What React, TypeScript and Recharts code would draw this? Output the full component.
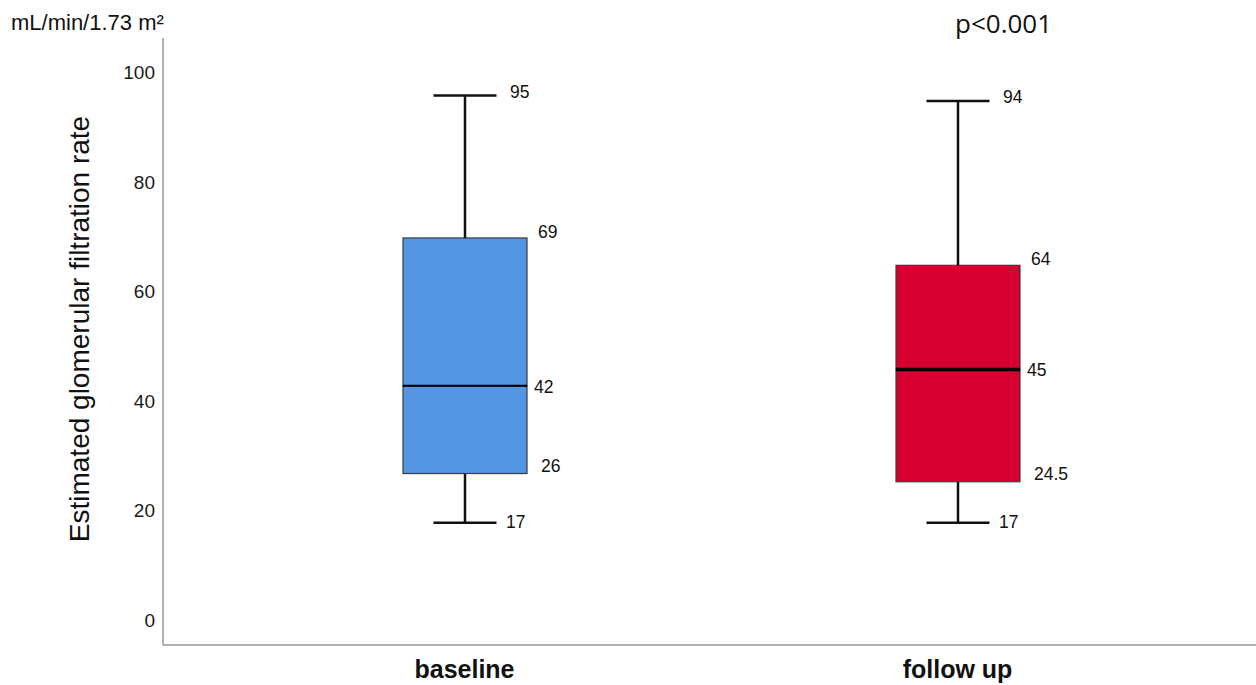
import { BarChart, Bar, XAxis, YAxis } from 'recharts'

// eGFR summary per visit (five-number summary)
const GROUPS = ['baseline', 'follow up']
const MINIMUM = [17, 17]
const LOWER_QUARTILE = [26, 24.5]
const MEDIAN = [42, 45]
const UPPER_QUARTILE = [69, 64]
const MAXIMUM = [95, 94]
const Y_TICKS = [0, 20, 40, 60, 80, 100]

const FILLS = ['#5495e4', '#d5002f']
const MEDIAN_WIDTHS = [2, 3.5]

const rows = GROUPS.map((group, i) => ({
  group,
  min: MINIMUM[i],
  q1: LOWER_QUARTILE[i],
  median: MEDIAN[i],
  q3: UPPER_QUARTILE[i],
  max: MAXIMUM[i],
  // stacked segments
  floor: MINIMUM[i],
  lowWhisker: LOWER_QUARTILE[i] - MINIMUM[i],
  lowBox: MEDIAN[i] - LOWER_QUARTILE[i],
  highBox: UPPER_QUARTILE[i] - MEDIAN[i],
  highWhisker: MAXIMUM[i] - UPPER_QUARTILE[i],
}))

const FONT = "'Liberation Sans', Arial, sans-serif"
const CAP = 63
const WHISKER = '#111'

function ValueText({ x, y, value }: { x: number; y: number; value: number }) {
  return (
    <text x={x} y={y} fontSize={17.5} fontFamily={FONT} fill="#111" dominantBaseline="central">
      {value}
    </text>
  )
}

function Empty() {
  return <g />
}

function LowWhisker(props: any) {
  const { x, y, width, height, payload } = props
  const cx = x + width / 2
  const bottom = y + height
  return (
    <g>
      <line x1={cx} y1={y} x2={cx} y2={bottom} stroke={WHISKER} strokeWidth={2.5} />
      <line x1={cx - CAP / 2} y1={bottom} x2={cx + CAP / 2} y2={bottom} stroke={WHISKER} strokeWidth={2.5} />
      <ValueText x={cx + 41} y={bottom - 1} value={payload.min} />
    </g>
  )
}

function LowBox(props: any) {
  const { x, y, width, height, payload, index } = props
  return (
    <g>
      <rect x={x} y={y} width={width} height={height} fill={FILLS[index]} stroke="#3a3a3a" strokeWidth={1.2} />
      <ValueText x={x + width + 14} y={y + height - 8} value={payload.q1} />
    </g>
  )
}

function HighBox(props: any) {
  const { x, y, width, height, payload, index } = props
  const bottom = y + height
  return (
    <g>
      <rect x={x} y={y} width={width} height={height} fill={FILLS[index]} stroke="#3a3a3a" strokeWidth={1.2} />
      <line x1={x} y1={bottom} x2={x + width} y2={bottom} stroke="#000" strokeWidth={MEDIAN_WIDTHS[index]} />
      <ValueText x={x + width + 7} y={bottom + 1} value={payload.median} />
      <ValueText x={x + width + 11} y={y - 6} value={payload.q3} />
    </g>
  )
}

function HighWhisker(props: any) {
  const { x, y, width, height, payload } = props
  const cx = x + width / 2
  return (
    <g>
      <line x1={cx} y1={y} x2={cx} y2={y + height} stroke={WHISKER} strokeWidth={2.5} />
      <line x1={cx - CAP / 2} y1={y} x2={cx + CAP / 2} y2={y} stroke={WHISKER} strokeWidth={2.5} />
      <ValueText x={cx + 45} y={y - 4} value={payload.max} />
    </g>
  )
}

function YTick({ x, y, payload }: any) {
  return (
    <text x={x} y={y + 4.5} textAnchor="end" dominantBaseline="central" fontSize={19} fontFamily={FONT} fill="#1a1a1a">
      {payload.value}
    </text>
  )
}

function XTick({ x, y, payload }: any) {
  return (
    <text
      x={x}
      y={y + 33}
      textAnchor="middle"
      fontSize={25}
      fontWeight="bold"
      fontFamily="'Liberation Sans Narrow', 'Arial Narrow', 'Liberation Sans', sans-serif"
      fill="#111"
    >
      {payload.value}
    </text>
  )
}

export default function App() {
  return (
    <div style={{ position: 'absolute', left: 0, top: 0, width: 1256, height: 685, background: '#fff' }}>
      <BarChart
        width={1256}
        height={685}
        data={rows}
        barSize={124}
        margin={{ top: 38, right: 0, bottom: 0, left: 0 }}
      >
        <XAxis
          dataKey="group"
          height={40}
          padding={{ left: 55, right: 52 }}
          axisLine={{ stroke: '#999', strokeWidth: 1.5 }}
          tickLine={false}
          tickSize={0}
          tickMargin={0}
          tick={<XTick />}
        />
        <YAxis
          width={163}
          domain={[-5.3, 105.5]}
          ticks={Y_TICKS}
          allowDataOverflow
          axisLine={{ stroke: '#999', strokeWidth: 1.5 }}
          tickLine={false}
          tickSize={0}
          tickMargin={8}
          tick={<YTick />}
        />
        <Bar dataKey="floor" stackId="box" shape={<Empty />} isAnimationActive={false} />
        <Bar dataKey="lowWhisker" stackId="box" shape={<LowWhisker />} isAnimationActive={false} />
        <Bar dataKey="lowBox" stackId="box" shape={<LowBox />} isAnimationActive={false} />
        <Bar dataKey="highBox" stackId="box" shape={<HighBox />} isAnimationActive={false} />
        <Bar dataKey="highWhisker" stackId="box" shape={<HighWhisker />} isAnimationActive={false} />
      </BarChart>
      <svg width={1256} height={685} style={{ position: 'absolute', left: 0, top: 0, pointerEvents: 'none' }}>
        <text x={11} y={30} fontSize={22} fontFamily={FONT} fill="#111">
          mL/min/1.73 m²
        </text>
        <text x={955} y={33} fontSize={26} fontFamily="'Open Sans', sans-serif" fill="#111">
          p&lt;0.001
        </text>
        <text
          x={89}
          y={329}
          transform="rotate(-90 89 329)"
          textAnchor="middle"
          fontSize={28}
          fontFamily={FONT}
          fill="#111"
        >
          Estimated glomerular filtration rate
        </text>
      </svg>
    </div>
  )
}
